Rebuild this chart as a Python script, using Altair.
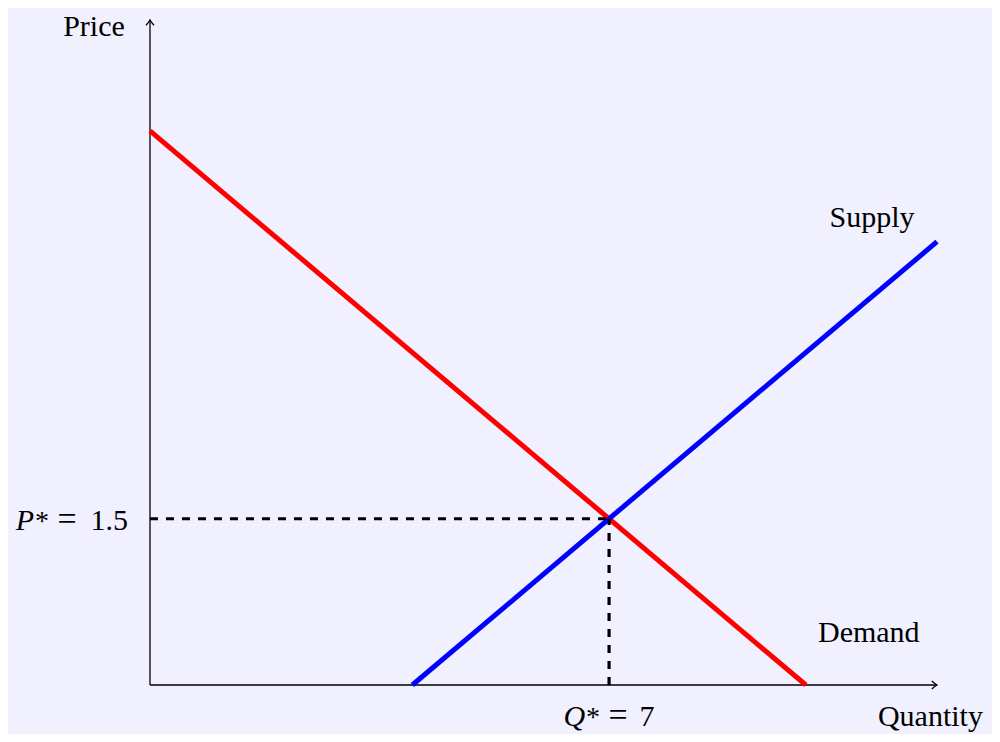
import altair as alt
import pandas as pd

# ---- data ----
demand_q = [0, 10]
demand_p = [5, 0]
supply_q = [4, 12]
supply_p = [0, 4]
eq_q = 7
eq_p = 1.5
x_max = 12
y_max = 6

label_text = ["Price", "Quantity", "Supply", "Demand"]
label_q = [-0.854, 11.9, 11.01, 10.96]
label_p = [5.86, -0.37, 4.13, 0.388]

curves = pd.DataFrame({
    "q": demand_q + supply_q,
    "p": demand_p + supply_p,
    "series": ["Demand"] * len(demand_q) + ["Supply"] * len(supply_q),
})
axes_df = pd.DataFrame({"q": [0, 0], "p": [0, 0], "q2": [x_max, 0], "p2": [0, y_max]})
dash_df = pd.DataFrame({"q": [0, eq_q], "p": [eq_p, 0], "q2": [eq_q, eq_q], "p2": [eq_p, eq_p]})
labels_df = pd.DataFrame({"text": label_text, "q": label_q, "p": label_p})
pstar_df = pd.DataFrame({"q": [0], "p": [eq_p], "val": [f"{eq_p}"]})
qstar_df = pd.DataFrame({"q": [eq_q], "p": [0], "val": [f"{eq_q}"]})

FONT = "Liberation Serif"
FS = 30

xs = alt.Scale(domain=[0, x_max], nice=False, zero=False)
ys = alt.Scale(domain=[0, y_max], nice=False, zero=False)
X = alt.X("q:Q", scale=xs, axis=None)
Y = alt.Y("p:Q", scale=ys, axis=None)

lines = alt.Chart(curves).mark_line(strokeWidth=5, clip=False, strokeCap="butt").encode(
    x=X, y=Y,
    color=alt.Color("series:N", scale=alt.Scale(domain=["Demand", "Supply"], range=["#ff0000", "#0000ff"]), legend=None),
    detail="series:N",
)

axes = alt.Chart(axes_df).mark_rule(color="black", strokeWidth=1.3).encode(
    x=X, y=Y, x2="q2:Q", y2="p2:Q"
)

dashes = alt.Chart(dash_df).mark_rule(color="black", strokeWidth=3.2, strokeDash=[8, 8]).encode(
    x=X, y=Y, x2="q2:Q", y2="p2:Q"
)

arrow_right = alt.Chart(pd.DataFrame({"q": [x_max], "p": [0]})).mark_point(
    shape="M -1.3 -1 Q -0.5 -0.25 0 0 Q -0.5 0.25 -1.3 1",
    filled=False, stroke="black", strokeWidth=1.3, size=64, opacity=1,
).encode(x=X, y=Y)

arrow_up = alt.Chart(pd.DataFrame({"q": [0], "p": [y_max]})).mark_point(
    shape="M -1 1.3 Q -0.25 0.5 0 0 Q 0.25 0.5 1 1.3",
    filled=False, stroke="black", strokeWidth=1.3, size=64, opacity=1,
).encode(x=X, y=Y)

labels = alt.Chart(labels_df).mark_text(
    font=FONT, fontSize=FS, align="center", baseline="alphabetic", color="black"
).encode(x=X, y=Y, text="text:N")


def piece(df, text=None, field=None, dx=0, dy=0, align="center", italic=False, size=FS):
    kw = dict(font=FONT, fontSize=size, align=align, baseline="alphabetic", color="black", dx=dx, dy=dy)
    if italic:
        kw["fontStyle"] = "italic"
    if text is not None:
        kw["text"] = text
        return alt.Chart(df).mark_text(**kw).encode(x=X, y=Y)
    return alt.Chart(df).mark_text(**kw).encode(x=X, y=Y, text=f"{field}:N")


pstar = [
    piece(pstar_df, text="P", dx=-116, dy=11, align="right", italic=True),
    piece(pstar_df, text="*", dx=-108, dy=11, size=28),
    piece(pstar_df, text="=", dx=-83, dy=11, size=34),
    piece(pstar_df, field="val", dx=-22, dy=11, align="right"),
]
qstar = [
    piece(qstar_df, text="Q", dx=-24, dy=41, align="right", italic=True),
    piece(qstar_df, text="*", dx=-16, dy=41, size=28),
    piece(qstar_df, text="=", dx=9, dy=41, size=34),
    piece(qstar_df, field="val", dx=38, dy=41),
]

chart = alt.layer(axes, arrow_right, arrow_up, lines, dashes, labels, *pstar, *qstar).properties(
    width=787, height=665,
    autosize=alt.AutoSizeParams(type="none"),
    padding={"left": 142, "top": 12, "right": 55, "bottom": 49},
    background="#f0f0ff",
).configure_view(stroke=None)

chart.save("out.html", embed_options={"renderer": "svg", "actions": False})
